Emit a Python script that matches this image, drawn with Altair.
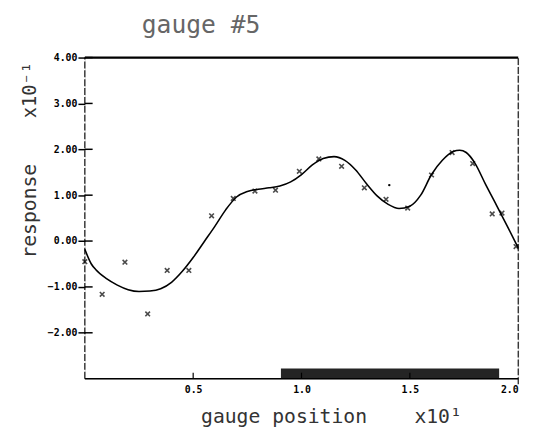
import altair as alt
import pandas as pd

# fitted curve (x in units of x10^1, response in units of x10^-1)
curve_x = [0.00, 0.03, 0.05, 0.10, 0.15, 0.20, 0.25, 0.30, 0.35, 0.40, 0.45, 0.50,
           0.55, 0.60, 0.65, 0.70, 0.75, 0.80, 0.85, 0.90, 0.95, 1.00, 1.05, 1.10,
           1.15, 1.20, 1.25, 1.30, 1.35, 1.40, 1.45, 1.50, 1.55, 1.60, 1.65, 1.70,
           1.73, 1.76, 1.80, 1.85, 1.90, 1.95, 2.00]
curve_y = [-0.18, -0.50, -0.62, -0.82, -0.96, -1.06, -1.10, -1.09, -1.04, -0.90, -0.66, -0.36,
           -0.02, 0.32, 0.68, 0.96, 1.08, 1.13, 1.16, 1.20, 1.29, 1.45, 1.66, 1.80,
           1.84, 1.76, 1.55, 1.25, 0.98, 0.80, 0.71, 0.76, 1.00, 1.45, 1.76, 1.95,
           1.98, 1.93, 1.70, 1.23, 0.78, 0.32, -0.15]

# measured gauge responses
pts_x = [0.00, 0.08, 0.185, 0.29, 0.38, 0.48, 0.585, 0.685, 0.785, 0.88, 0.99, 1.08,
         1.185, 1.29, 1.39, 1.49, 1.60, 1.695, 1.79, 1.88, 1.925, 1.99]
pts_y = [-0.45, -1.16, -0.46, -1.59, -0.64, -0.64, 0.55, 0.93, 1.09, 1.11, 1.52, 1.79,
         1.63, 1.16, 0.91, 0.72, 1.44, 1.93, 1.69, 0.59, 0.61, -0.12]
dot_x = [1.405]
dot_y = [1.22]

# dense band of gauge positions along the bottom
band_x = [0.905, 1.912]
band_y = [-3.0, -2.78]

y_ticks = [-2, -1, 0, 1, 2, 3, 4]
x_ticks = [0.5, 1.0, 1.5, 2.0]

FONT = "DejaVu Sans Mono"
NB = "\u00a0"
xs = alt.Scale(domain=[0, 2], nice=False, zero=False)
ys = alt.Scale(domain=[-3, 4], nice=False, zero=False)

curve_df = pd.DataFrame({"x": curve_x, "y": curve_y})
pts_df = pd.DataFrame({"x": pts_x, "y": pts_y})
dot_df = pd.DataFrame({"x": dot_x, "y": dot_y})
band_df = pd.DataFrame({"x": [band_x[0]], "x2": [band_x[1]], "y": [band_y[0]], "y2": [band_y[1]]})

x_axis = alt.Axis(values=x_ticks, format=".1f", tickSize=0, labelPadding=6, domain=False,
                  grid=False, title=None, labelFont=FONT, labelFontSize=10,
                  labelFontWeight="bold", labelColor="black")
y_axis = alt.Axis(values=y_ticks, format=".2f", tickSize=7, tickWidth=1.5, tickColor="black",
                  labelPadding=1, domain=False, grid=False, title=None, labelFont=FONT,
                  labelFontSize=10, labelFontWeight="bold", labelColor="black")

curve = alt.Chart(curve_df).mark_line(color="black", strokeWidth=1.6, interpolate="monotone").encode(
    x=alt.X("x:Q", scale=xs, axis=x_axis),
    y=alt.Y("y:Q", scale=ys, axis=y_axis),
)

pts = alt.Chart(pts_df).mark_point(shape="M-1,-1L1,1M1,-1L-1,1", size=22, color="black",
                                   strokeWidth=1.6, filled=False).encode(
    x=alt.X("x:Q", scale=xs), y=alt.Y("y:Q", scale=ys))

dots = alt.Chart(dot_df).mark_circle(size=6, color="black", opacity=1).encode(
    x=alt.X("x:Q", scale=xs), y=alt.Y("y:Q", scale=ys))

band = alt.Chart(band_df).mark_rect(color="#111111", opacity=0.92).encode(
    x=alt.X("x:Q", scale=xs), x2="x2:Q", y=alt.Y("y:Q", scale=ys), y2="y2:Q")

# frame
frame_df = pd.DataFrame({
    "x": [0, 0, 0, 2], "x2": [2, 2, 0, 2],
    "y": [4, -3, -3, -3.12], "y2": [4, -3, 4, 4],
    "w": ["top", "bottom", "left", "right"],
})
top = alt.Chart(frame_df[frame_df.w == "top"]).mark_rule(color="black", strokeWidth=2.4).encode(
    x=alt.X("x:Q", scale=xs), x2="x2:Q", y=alt.Y("y:Q", scale=ys), y2="y2:Q")
bottom = alt.Chart(frame_df[frame_df.w == "bottom"]).mark_rule(color="black", strokeWidth=1.5).encode(
    x=alt.X("x:Q", scale=xs), x2="x2:Q", y=alt.Y("y:Q", scale=ys), y2="y2:Q")
sides = alt.Chart(frame_df[frame_df.w.isin(["left", "right"])]).mark_rule(
    color="black", strokeWidth=1.1, strokeDash=[7, 2], clip=False).encode(
    x=alt.X("x:Q", scale=xs), x2="x2:Q", y=alt.Y("y:Q", scale=ys), y2="y2:Q")

# inward tick halves
ytick_df = pd.DataFrame({"x": [0.0] * len(y_ticks), "x2": [0.036] * len(y_ticks), "y": y_ticks})
yin = alt.Chart(ytick_df).mark_rule(color="black", strokeWidth=1.5).encode(
    x=alt.X("x:Q", scale=xs), x2="x2:Q", y=alt.Y("y:Q", scale=ys))
xtick_df = pd.DataFrame({"x": x_ticks[:-1], "y": [-3.0] * 3, "y2": [-2.87] * 3})
xin = alt.Chart(xtick_df).mark_rule(color="black", strokeWidth=1.2).encode(
    x=alt.X("x:Q", scale=xs), y=alt.Y("y:Q", scale=ys), y2="y2:Q")

one = pd.DataFrame({"a": [0]})
title = alt.Chart(one).mark_text(text="gauge #5", font=FONT, fontSize=25, color="#666666",
                                 align="center", baseline="middle").encode(
    x=alt.value(118), y=alt.value(-33))
ytitle = alt.Chart(one).mark_text(text="response", font=FONT, fontSize=20, color="#333333",
                                  angle=270, align="center", baseline="middle").encode(
    x=alt.value(-56), y=alt.value(156))
yexp = alt.Chart(one).mark_text(text="x10⁻¹", font=FONT, fontSize=19, color="#333333",
                                angle=270, align="center", baseline="middle").encode(
    x=alt.value(-56), y=alt.value(33))
xtitle = alt.Chart(one).mark_text(text="gauge position" + NB * 4 + "x10¹", font=FONT, fontSize=20,
                                  color="#333333", align="left", baseline="middle").encode(
    x=alt.value(118), y=alt.value(365))

chart = alt.layer(band, curve, pts, dots, top, bottom, sides, yin, xin,
                  title, ytitle, yexp, xtitle).properties(
    width=440, height=326,
    padding={"left": 78, "top": 47, "right": 14, "bottom": 62},
    autosize=alt.AutoSizeParams(type="none"),
).configure_view(stroke=None).configure(background="white")

chart.save("out.html", embed_options={"renderer": "svg", "actions": False})
